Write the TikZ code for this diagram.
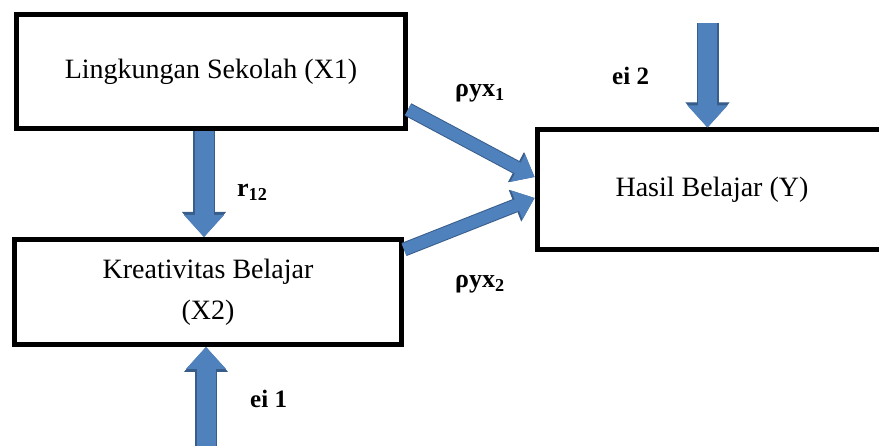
\documentclass[tikz,border=0pt]{standalone}
\usepackage{fontspec}
\setmainfont{Liberation Serif}
\usetikzlibrary{arrows.meta,positioning}
\definecolor{arrblue}{HTML}{4F81BD}
\definecolor{arrdark}{HTML}{385D8A}
\tikzset{
  box/.style={draw, line width=5pt, align=center, inner sep=0pt, font=\fontsize{28}{41}\selectfont},
  lab/.style={font=\fontsize{26}{30}\selectfont\bfseries, inner sep=0pt, anchor=base west},
  elab/.style={lab, font=\fontsize{25}{29}\selectfont\bfseries},
  fatarr/.style={line width=19pt, draw=arrblue,
                 preaction={draw=arrdark, line width=22pt, -{Triangle[width=44pt,length=25pt,line width=1pt]}},
                 -{Triangle[width=40pt,length=22pt,line width=1pt]}},
  diagarr/.style={line width=12pt, draw=arrblue,
                 preaction={draw=arrdark, line width=14pt, -{Triangle[width=34pt,length=21pt,line width=1pt]}},
                 -{Triangle[width=31pt,length=19pt,line width=1pt]}},
}
\begin{document}
\begin{tikzpicture}[x=1pt,y=-1pt]
  \useasboundingbox (0,0) rectangle (879,446);
  \clip (0,0) rectangle (879,446);
  % boxes
  \node[box, minimum width=389pt, minimum height=114pt] (x1) at (211,71.5) {Lingkungan Sekolah (X1)};
  \node[box, minimum width=387pt, minimum height=105pt] (x2) at (208,292) {Kreativitas Belajar\\(X2)};
  \node[box, minimum width=350pt, minimum height=120pt] (y) at (712,190) {Hasil Belajar (Y)};
  % error terms
  \coordinate (e1) at (206,460);
  \coordinate (e2) at (707.5,23);
  % labels
  \node[lab] (p1) at (455,97) {ρyx\textsubscript{1}};
  \node[lab] (p2) at (455,288) {ρyx\textsubscript{2}};
  \node[lab] (r) at (237,197) {r\textsubscript{12}};
  \node[elab] (l2) at (612,85) {ei 2};
  \node[elab] (l1) at (250,408) {ei 1};
  % arrows
  \draw[fatarr] ([xshift=-7pt]x1.south) -- ([xshift=-4pt]x2.north);
  \draw[fatarr] (e1) -- (x2.south -| e1);
  \draw[fatarr] (e2) -- (y.north -| e2);
  \draw[diagarr] ([yshift=21.5pt]x1.south east) -- ([yshift=13pt]y.west);
  \draw[diagarr] ([yshift=-12.5pt]x2.north east) -- ([yshift=-8pt]y.west);
\end{tikzpicture}
\end{document}
